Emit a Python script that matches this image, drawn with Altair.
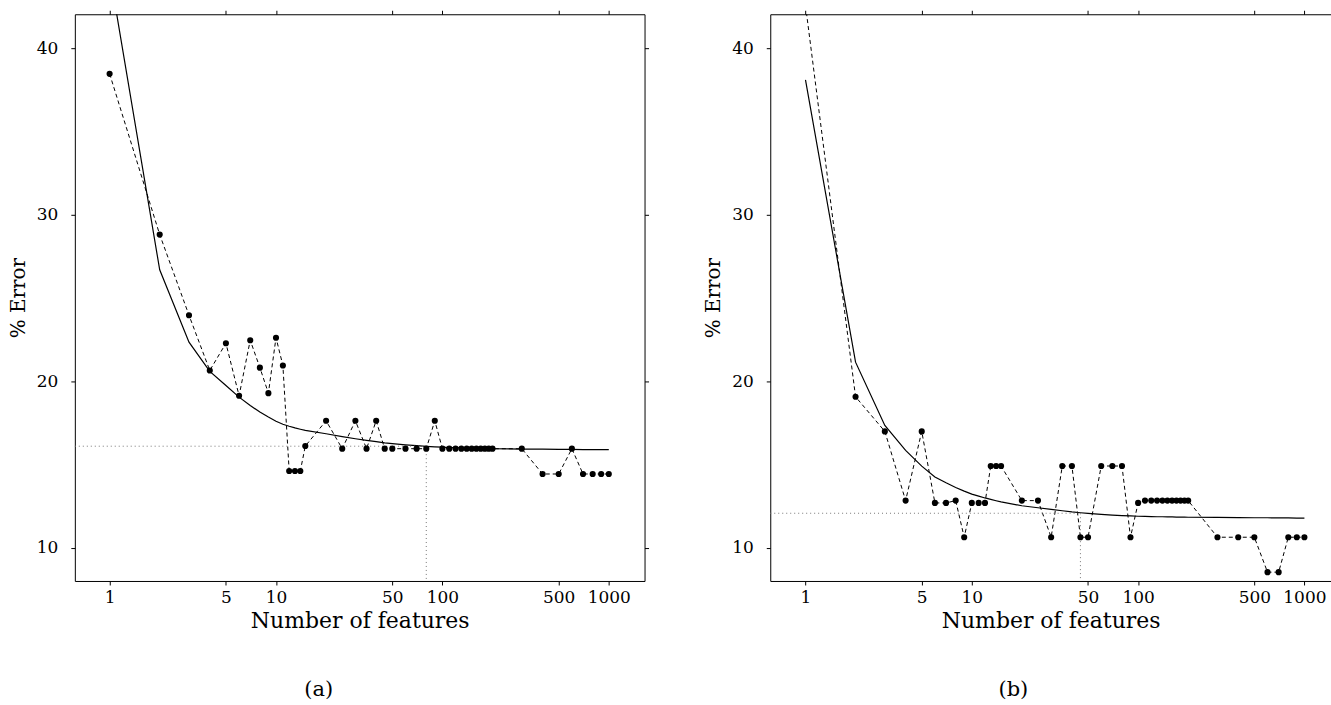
import altair as alt
import pandas as pd

# ---------------- data ----------------
features = [1, 2, 3, 4, 5, 6, 7, 8, 9, 10, 11, 12, 13, 14, 15,
            20, 25, 30, 35, 40, 45, 50,
            60, 70, 80, 90,
            100, 110, 120, 130, 140, 150, 160, 170, 180, 190, 200,
            300, 400, 500, 600, 700, 800, 900, 1000]

err_a = [38.48, 28.82, 23.97, 20.65, 22.29, 19.13, 22.47, 20.82, 19.29, 22.62, 20.95, 14.61, 14.61, 14.61, 16.11,
         17.63, 15.95, 17.63, 15.95, 17.63, 15.95, 15.95,
         15.95, 15.95, 15.95, 17.63,
         15.95, 15.95, 15.95, 15.95, 15.95, 15.95, 15.95, 15.95, 15.95, 15.95, 15.95,
         15.95, 14.43, 14.43, 15.95, 14.43, 14.43, 14.43, 14.43]

fit_a = [44.6, 26.7, 22.35, 20.6, 19.75, 19.05, 18.55, 18.15, 17.85, 17.6, 17.42, 17.3, 17.2, 17.12, 17.05,
         16.85, 16.68, 16.55, 16.45, 16.37, 16.3, 16.25,
         16.18, 16.13, 16.09, 16.06,
         16.04, 16.02, 16.01, 16.0, 15.99, 15.98, 15.97, 15.97, 15.96, 15.96, 15.95,
         15.93, 15.92, 15.91, 15.91, 15.9, 15.9, 15.9, 15.89]

err_b = [42.6, 19.07, 16.99, 12.83, 16.99, 12.69, 12.69, 12.83, 10.63, 12.69, 12.69, 12.69, 14.91, 14.91, 14.91,
         12.83, 12.83, 10.63, 14.91, 14.91, 10.63, 10.63,
         14.91, 14.91, 14.91, 10.63,
         12.69, 12.83, 12.83, 12.83, 12.83, 12.83, 12.83, 12.83, 12.83, 12.83, 12.83,
         10.63, 10.63, 10.63, 8.53, 8.53, 10.63, 10.63, 10.63]

fit_b = [38.12, 21.15, 17.35, 15.85, 14.9, 14.25, 13.9, 13.62, 13.4, 13.22, 13.1, 12.99, 12.9, 12.82, 12.75,
         12.52, 12.4, 12.3, 12.22, 12.15, 12.1, 12.06,
         12.0, 11.96, 11.93, 11.91,
         11.89, 11.88, 11.87, 11.86, 11.86, 11.85, 11.85, 11.84, 11.84, 11.84, 11.83,
         11.82, 11.81, 11.8, 11.8, 11.79, 11.79, 11.78, 11.78]

# selected model (dotted guide lines)
ref_a = {"n": 80, "err": 16.1}
ref_b = {"n": 45, "err": 12.07}

x_ticks = [1, 5, 10, 50, 100, 500, 1000]
y_ticks = [10, 20, 30, 40]
y_domain = [8, 42.06]

FONT = "DejaVu Serif"


def panel(err, fit, ref, x_domain, width, right_visible, caption, cap_dx):
    df = pd.DataFrame({"n": features, "err": err, "fit": fit})
    ref_df = pd.DataFrame({"n": [ref["n"]], "err": [ref["err"]],
                           "x0": [x_domain[0]], "y0": [y_domain[0]]})
    xs = alt.Scale(type="log", domain=x_domain, nice=False)
    ys = alt.Scale(domain=y_domain, nice=False, zero=False)
    common = dict(grid=False, domainColor="black", tickColor="black", tickSize=4,
                  domainWidth=1, tickWidth=1, labelFont=FONT, labelFontSize=17,
                  labelColor="black", titleFont=FONT, titleColor="black",
                  titleFontWeight="normal")
    x_bottom = alt.Axis(orient="bottom", values=x_ticks, format="d", title="Number of features",
                        titleFontSize=22, labelPadding=5, titlePadding=5, labelFlush=False,
                        labelOverlap=False, **common)
    x_top = alt.Axis(orient="top", values=x_ticks, labels=False, title=None, **common)
    y_left = alt.Axis(orient="left", values=y_ticks, title="% Error", titleFontSize=20,
                      labelPadding=13, titlePadding=8, **common)
    if right_visible:
        y_right = alt.Axis(orient="right", values=y_ticks, labels=False, title=None, **common)
    else:
        y_right = alt.Axis(orient="right", values=y_ticks, labels=False, title=None,
                           ticks=False, domain=False, grid=False)

    base = alt.Chart(df)
    fit_line = base.mark_line(color="black", strokeWidth=1.2, clip=True).encode(
        x=alt.X("n:Q", scale=xs, axis=x_bottom),
        y=alt.Y("fit:Q", scale=ys, axis=y_left),
    )
    err_line = base.mark_line(color="black", strokeWidth=1, strokeDash=[4, 3], clip=True).encode(
        x=alt.X("n:Q", scale=xs, axis=x_top),
        y=alt.Y("err:Q", scale=ys, axis=y_right),
    )
    pts = base.mark_circle(color="black", opacity=1, size=38, clip=True).encode(
        x=alt.X("n:Q", scale=xs, axis=None),
        y=alt.Y("err:Q", scale=ys, axis=None),
    )
    rb = alt.Chart(ref_df)
    hrule = rb.mark_rule(color="#777777", strokeWidth=1, strokeDash=[1, 3]).encode(
        x=alt.X("x0:Q", scale=xs, axis=None), x2="n:Q",
        y=alt.Y("err:Q", scale=ys, axis=None),
    )
    vrule = rb.mark_rule(color="#777777", strokeWidth=1, strokeDash=[1, 3]).encode(
        x=alt.X("n:Q", scale=xs, axis=None),
        y=alt.Y("err:Q", scale=ys, axis=None), y2="y0:Q",
    )
    return alt.layer(fit_line, err_line, hrule, vrule, pts).properties(
        width=width, height=568,
        title=alt.TitleParams(caption, orient="bottom", anchor="middle", frame="bounds",
                              font=FONT, fontSize=21, fontWeight="normal", color="black",
                              offset=47, dx=cap_dx),
    )


pa = panel(err_a, fit_a, ref_a, [0.618, 1640], 571, True, "(a)", -10)
pb = panel(err_b, fit_b, ref_b, [0.614, 1445], 562, False, "(b)", -4)

chart = alt.hconcat(pa, pb, spacing=54).properties(
    padding={"left": 8, "top": 8.5, "right": 0, "bottom": 0},
    background="white",
).configure_view(stroke=None)

chart.save("out.html", embed_options={"renderer": "svg", "actions": False})
